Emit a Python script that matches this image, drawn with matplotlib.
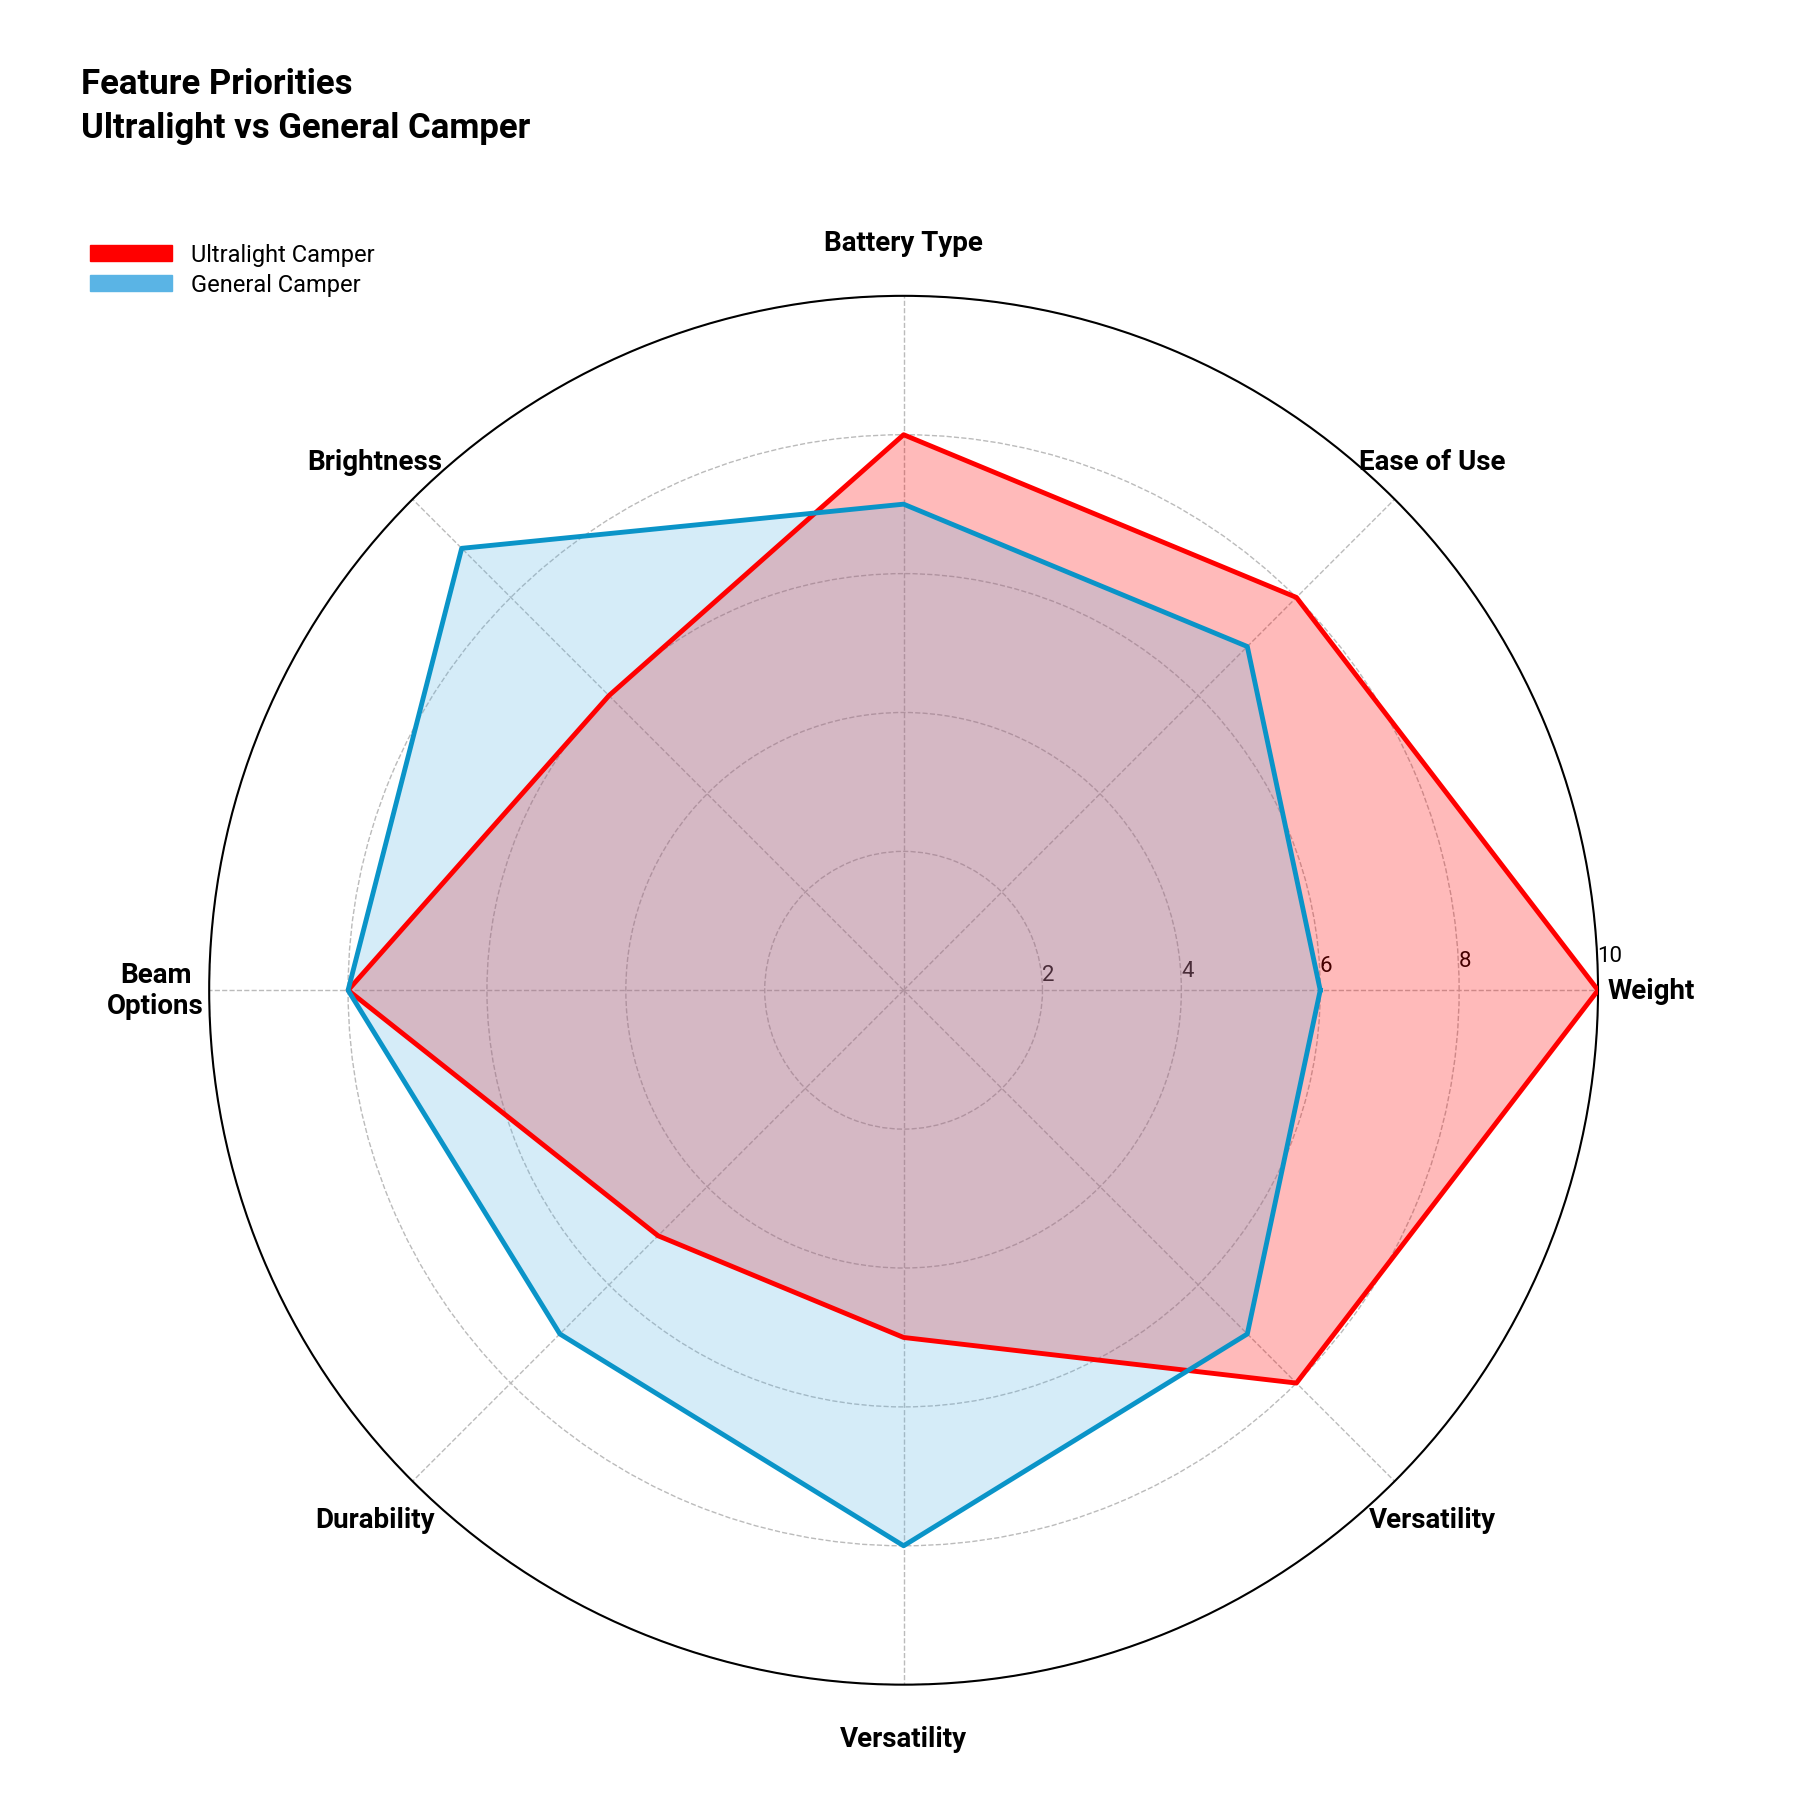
import numpy as np
import matplotlib.pyplot as plt
from matplotlib.patches import Patch

categories = ["Weight", "Ease of Use", "Battery Type", "Brightness", "Beam\nOptions",
              "Durability", "Versatility", "Versatility"]
ultralight = [10, 8, 8, 6, 8, 5, 5, 8]
general = [6, 7, 7, 9, 8, 7, 8, 7]
ticks = [2, 4, 6, 8, 10]

plt.rcParams['font.family'] = ['Roboto', 'DejaVu Sans']

n = len(categories)
angles = np.linspace(0, 2 * np.pi, n, endpoint=False)
ang = np.append(angles, angles[0])

fig = plt.figure(figsize=(18, 17.99), dpi=100)
ax = fig.add_axes([0.116, 0.063, 0.772, 0.772], projection='polar')

u = np.append(ultralight, ultralight[0])
g = np.append(general, general[0])
ax.fill(ang, u, color='#ff0000', alpha=0.27, zorder=2)
ax.fill(ang, g, color='#5ab4e5', alpha=0.25, zorder=2)
ax.plot(ang, u, color='#ff0000', lw=3.5, zorder=3)
ax.plot(ang, g, color='#0a94c8', lw=3.5, zorder=3)

ax.set_ylim(0, 10)
ax.set_yticks(ticks)
ax.set_yticklabels([str(t) for t in ticks], fontsize=16)
ax.set_rlabel_position(2)
ax.set_xticks(angles)
ax.set_xticklabels(categories, fontsize=20, fontweight='bold')
ax.tick_params(axis='x', pad=28)
ax.grid(color='#bbbbbb', linestyle='--', linewidth=1)
ax.spines['polar'].set_color('black')
ax.spines['polar'].set_linewidth(1.5)

fig.text(0.045, 0.962, "Feature Priorities\nUltralight vs General Camper", fontsize=25,
         fontweight='bold', va='top', ha='left', linespacing=1.4)
handles = [Patch(color='#ff0000', label='Ultralight Camper'),
           Patch(color='#5ab4e5', label='General Camper')]
fig.legend(handles=handles, loc='upper left', bbox_to_anchor=(0.038, 0.876), frameon=False,
           fontsize=17, handlelength=3.5, handleheight=0.7, labelspacing=0.3)

fig.savefig("out.png")
